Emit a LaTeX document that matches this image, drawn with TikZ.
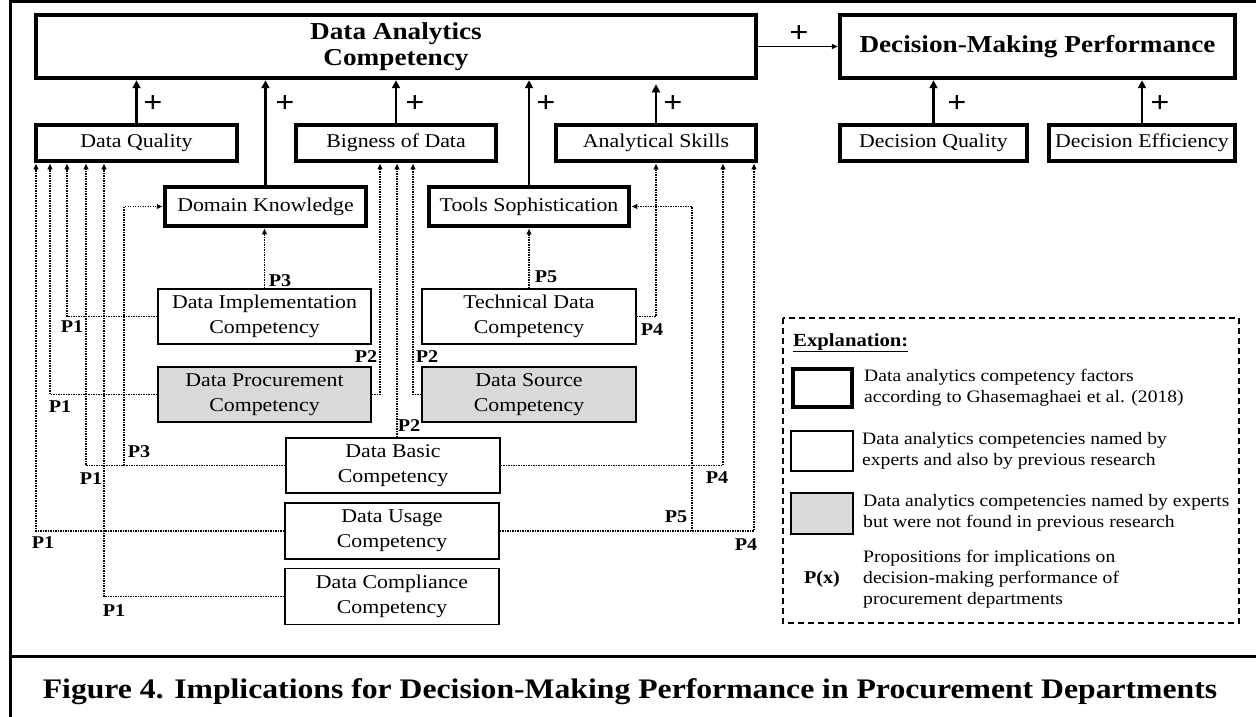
\documentclass[tikz,border=0pt]{standalone}
\usepackage{fontspec}
\setmainfont{Liberation Serif}[FakeStretch=1.12]
\usetikzlibrary{arrows.meta}
\definecolor{boxgray}{HTML}{D9D9D9}
\newcommand\fmid{\fontsize{19.5}{25}\selectfont}
\newcommand\ftitle{\fontsize{24.3}{26}\selectfont\bfseries}
\newcommand\fleg{\fontsize{17.5}{21}\selectfont}
\newcommand\fplus{\fontsize{30}{30}\selectfont\bfseries}
\newcommand\fplab{\fontsize{18}{18}\selectfont\bfseries}
\newcommand\fcap{\fontsize{28.3}{30}\selectfont\bfseries}
\begin{document}
\begin{tikzpicture}[x=1pt,y=-1pt,
  thickbox/.style={draw, line width=4.5pt, inner sep=0pt, align=center, font=\fmid},
  thinbox/.style={draw, line width=1.5pt, inner sep=0pt, align=center, font=\fmid},
  graybox/.style={thinbox, fill=boxgray},
  solidarr/.style={line width=2.5pt, -{Triangle[length=8pt,width=8pt]}},
  dotarr/.style={line width=1.4pt, dash pattern=on 1.3pt off 1.2pt, -{Latex[length=6pt,width=5.5pt]}},
  plus/.style={font=\fplus, inner sep=0pt},
  plab/.style={font=\fplab, inner sep=0pt},
  legtext/.style={font=\fleg, align=left, inner sep=0pt, anchor=west},
]
\useasboundingbox (0,0) rectangle (1256,717);
% frame
\draw[line width=3pt] (10,1.5) -- (1262,1.5);
\draw[line width=3pt] (10,0) -- (10,725);
\draw[line width=3pt] (10,656) -- (1262,656);

% thick boxes
\node[thickbox, minimum width=720pt, minimum height=63pt, font=\ftitle] (dac) at (396,46.5) {Data Analytics\\Competency};
\node[thickbox, minimum width=395pt, minimum height=63pt, font=\ftitle] (dmp) at (1037.5,46.5) {Decision-Making Performance};
\node[thickbox, minimum width=201pt, minimum height=36pt] (dq) at (136.5,143) {Data Quality};
\node[thickbox, minimum width=200pt, minimum height=36pt] (bod) at (396,143) {Bigness of Data};
\node[thickbox, minimum width=200pt, minimum height=36pt] (as) at (656,143) {Analytical Skills};
\node[thickbox, minimum width=201pt, minimum height=39pt] (dk) at (265.5,206.5) {Domain Knowledge};
\node[thickbox, minimum width=200pt, minimum height=39pt] (ts) at (529,206.5) {Tools Sophistication};
\node[thickbox, minimum width=187pt, minimum height=36pt] (decq) at (933.5,143) {Decision Quality};
\node[thickbox, minimum width=186pt, minimum height=36pt] (dece) at (1142,143) {Decision Efficiency};

% thin boxes
\node[thinbox, minimum width=213pt, minimum height=55pt] (di) at (264.5,316.5) {Data Implementation\\Competency};
\node[graybox, minimum width=213pt, minimum height=55pt] (dp) at (264.5,394.5) {Data Procurement\\Competency};
\node[thinbox, minimum width=214pt, minimum height=55pt] (td) at (529,316.5) {Technical Data\\Competency};
\node[graybox, minimum width=214pt, minimum height=55pt] (ds) at (529,394.5) {Data Source\\Competency};
\node[thinbox, minimum width=214pt, minimum height=55pt] (db) at (393,465.5) {Data Basic\\Competency};
\node[thinbox, minimum width=214pt, minimum height=56pt] (du) at (392,531) {Data Usage\\Competency};
\node[thinbox, minimum width=214pt, minimum height=56pt] (dc) at (392,596.5) {Data Compliance\\Competency};

% solid arrows
\draw[line width=1.5pt, -{Triangle[length=6pt,width=5pt]}] (dac.east) -- (dmp.west);
\node[plus] (pl0) at (799,34) {+};
\draw[solidarr] (dq.north) -- (dq.north |- dac.south);
\node[plus] (pl1) at (153,104) {+};
\draw[solidarr] (dk.north) -- (dk.north |- dac.south);
\node[plus] (pl2) at (285,104) {+};
\draw[solidarr] (bod.north) -- (bod.north |- dac.south);
\node[plus] (pl3) at (415,104) {+};
\draw[solidarr] (ts.north) -- (ts.north |- dac.south);
\node[plus] (pl4) at (546,104) {+};
\draw[solidarr, shorten >=4pt] (as.north) -- (as.north |- dac.south);
\node[plus] (pl5) at (673,104) {+};
\draw[solidarr] (decq.north) -- (decq.north |- dmp.south);
\node[plus] (pl6) at (957,104) {+};
\draw[solidarr] (dece.north) -- (dece.north |- dmp.south);
\node[plus] (pl7) at (1160,104) {+};

% dotted connectors to Data Quality
\draw[dotarr] (du.west) -| (36,0 |- dq.south);
\draw[dotarr] (dp.west) -| (50,0 |- dq.south);
\draw[dotarr] (di.west) -| (67,0 |- dq.south);
\draw[dotarr] (db.west) -| (86,0 |- dq.south);
\draw[dotarr] (dc.west) -| (104,0 |- dq.south);
% to Domain Knowledge
\draw[dotarr] (124,0 |- db.west) |- (dk.west);
\draw[dotarr] (di.north) -- (di.north |- dk.south);
% to Bigness of Data
\draw[dotarr] (dp.east) -| (380,0 |- bod.south);
\draw[dotarr] (397,0 |- db.north) -- (397,0 |- bod.south);
\draw[dotarr] (ds.west) -| (413,0 |- bod.south);
% to Tools Sophistication
\draw[dotarr] (td.north) -- (td.north |- ts.south);
\draw[dotarr] (692,0 |- du.east) |- (ts.east);
% to Analytical Skills
\draw[dotarr] (td.east) -| (656,0 |- as.south);
\draw[dotarr] (db.east) -| (723,0 |- as.south);
\draw[dotarr] (du.east) -| (754,0 |- as.south);

% proposition labels
\node[plab] (l1) at (72,327) {P1};
\node[plab] (l2) at (60,407) {P1};
\node[plab] (l3) at (91,479) {P1};
\node[plab] (l4) at (43,543) {P1};
\node[plab] (l5) at (114,611) {P1};
\node[plab] (l6) at (366,357) {P2};
\node[plab] (l7) at (409,426) {P2};
\node[plab] (l8) at (427,357) {P2};
\node[plab] (l9) at (280,281) {P3};
\node[plab] (l10) at (139,452) {P3};
\node[plab] (l11) at (652,330) {P4};
\node[plab] (l12) at (717,478) {P4};
\node[plab] (l13) at (746,545) {P4};
\node[plab] (l14) at (546,277) {P5};
\node[plab] (l15) at (676,517) {P5};

% legend
\draw[line width=1.5pt, dash pattern=on 6pt off 4pt] (783,318) rectangle (1239,623);
\node[font=\fontsize{18.5}{20}\selectfont\bfseries, inner sep=0pt, anchor=base west] (expl) at (793,346) {\underline{Explanation:}};
\node[draw, line width=4.5pt, minimum width=59pt, minimum height=38pt, inner sep=0pt] (lg1) at (822.5,388) {};
\node[legtext] (lt1) at (864,388) {Data analytics competency factors\\according to Ghasemaghaei et al. (2018)};
\node[draw, line width=1.5pt, minimum width=62pt, minimum height=40pt, inner sep=0pt] (lg2) at (822,451) {};
\node[legtext] (lt2) at (862,451) {Data analytics competencies named by\\experts and also by previous research};
\node[draw, line width=1.5pt, fill=boxgray, minimum width=62pt, minimum height=41pt, inner sep=0pt] (lg3) at (822,513.5) {};
\node[legtext] (lt3) at (863,513) {Data analytics competencies named by experts\\but were not found in previous research};
\node[font=\fontsize{18}{20}\selectfont\bfseries, inner sep=0pt] (lg4) at (822,579) {P(x)};
\node[legtext] (lt4) at (863,579) {Propositions for implications on\\decision-making performance of\\procurement departments};

% caption
\node[font=\fcap, inner sep=0pt] (cap) at (630,692) {Figure 4. Implications for Decision-Making Performance in Procurement Departments};
\end{tikzpicture}
\end{document}
